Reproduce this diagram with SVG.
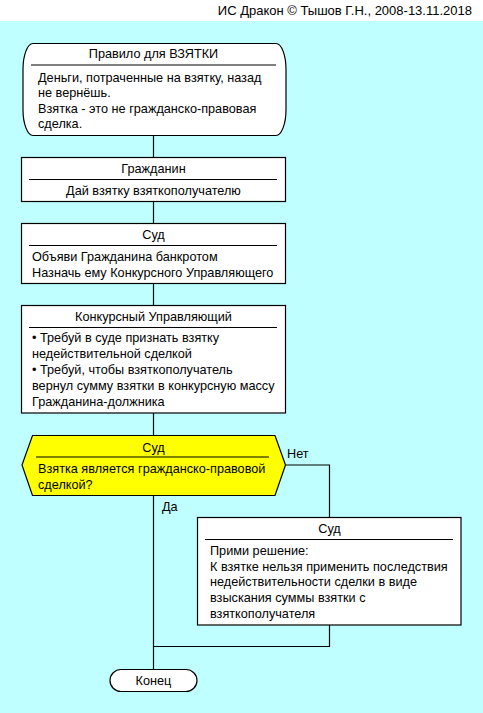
<svg xmlns="http://www.w3.org/2000/svg" width="483" height="713" viewBox="0 0 483 713">
<style>
text{font-family:"Liberation Sans",Arial,sans-serif;font-size:12.7px;fill:#000}
.c{text-anchor:middle}
.t{font-size:13px;text-anchor:end}
.box{fill:#fff;stroke:#000;stroke-width:1.2}
.dec{fill:#ffff00;stroke:#000;stroke-width:1.2}
.sep{stroke:#000;stroke-width:1.2}
.ln{fill:none;stroke:#000;stroke-width:1.2}
</style>
<rect x="0" y="0" width="483" height="713" fill="#fff"/>
<rect x="0" y="21" width="483" height="692" fill="#c0ffff"/>
<text class="t" x="472" y="15">ИС Дракон © Тышов Г.Н., 2008-13.11.2018</text>
<g id="connectors">
<path class="ln" d="M153.5,135V157M153.5,201V223M153.5,283V306M153.5,413V435M153.5,495V669"/>
<path class="ln" d="M286,465H329.5V517M329.5,625V646.5H153.5"/>
<text x="287" y="458">Нет</text>
<text x="162" y="511">Да</text>
</g>
<g id="n1">
<rect class="box" x="23" y="43.5" width="263" height="92" rx="10" ry="26"/>
<line class="sep" x1="31" y1="65" x2="276" y2="65"/>
<text class="c" x="153.5" y="58">Правило для ВЗЯТКИ</text>
<text x="38" y="82">Деньги, потраченные на взятку, назад</text>
<text x="38" y="97">не вернёшь.</text>
<text x="38" y="113">Взятка - это не гражданско-правовая</text>
<text x="38" y="128">сделка.</text>
</g>
<g id="n2">
<rect class="box" x="21.5" y="157.5" width="264" height="44"/>
<line class="sep" x1="29" y1="179.5" x2="277" y2="179.5"/>
<text class="c" x="153.5" y="173">Гражданин</text>
<text class="c" x="153.5" y="195">Дай взятку взяткополучателю</text>
</g>
<g id="n3">
<rect class="box" x="21.5" y="223.5" width="264" height="60"/>
<line class="sep" x1="29" y1="245.5" x2="277" y2="245.5"/>
<text class="c" x="153.5" y="239">Суд</text>
<text x="32" y="261">Объяви Гражданина банкротом</text>
<text x="32" y="277">Назначь ему Конкурсного Управляющего</text>
</g>
<g id="n4">
<rect class="box" x="21.5" y="305.5" width="264" height="107.5"/>
<line class="sep" x1="29" y1="327.5" x2="277" y2="327.5"/>
<text class="c" x="153.5" y="321">Конкурсный Управляющий</text>
<text x="32" y="342">• Требуй в суде признать взятку</text>
<text x="32" y="358">недействительной сделкой</text>
<text x="32" y="374">• Требуй, чтобы взяткополучатель</text>
<text x="32" y="390">вернул сумму взятки в конкурсную массу</text>
<text x="32" y="406">Гражданина-должника</text>
</g>
<g id="n5">
<polygon class="dec" points="32.5,435.5 275,435.5 285.5,465 275,495.5 32.5,495.5 22,465"/>
<line class="sep" x1="36" y1="457" x2="269" y2="457"/>
<text class="c" x="153.5" y="452">Суд</text>
<text x="38" y="473">Взятка является гражданско-правовой</text>
<text x="38" y="489">сделкой?</text>
</g>
<g id="n6">
<rect class="box" x="197.5" y="517.5" width="263.5" height="107.5"/>
<line class="sep" x1="205" y1="539.5" x2="453" y2="539.5"/>
<text class="c" x="329.5" y="533">Суд</text>
<text x="210" y="555">Прими решение:</text>
<text x="210" y="571">К взятке нельзя применить последствия</text>
<text x="210" y="586">недействительности сделки в виде</text>
<text x="210" y="602">взыскания суммы взятки с</text>
<text x="210" y="618">взяткополучателя</text>
</g>
<g id="end">
<rect class="box" x="110" y="669.5" width="87" height="22" rx="11" ry="11"/>
<text class="c" x="153.5" y="685">Конец</text>
</g>
</svg>
